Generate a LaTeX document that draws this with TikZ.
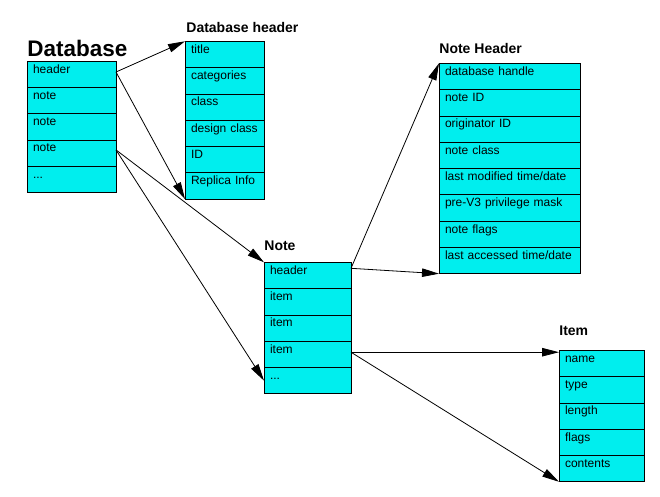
\documentclass[tikz,border=0pt]{standalone}
\usepackage{fontspec}
\setmainfont{Liberation Sans}
\usetikzlibrary{calc}
\usetikzlibrary{positioning}
\usetikzlibrary{arrows.meta}
\definecolor{cellcyan}{RGB}{0,238,238}
\tikzstyle{cell} = [draw, fill=cellcyan, inner xsep=6pt, inner ysep=3pt, outer sep=0pt, text height=9pt, text depth=11.3pt, align=left, font=\fontsize{12}{14}\selectfont]
\tikzstyle{dbcell} = [cell, text width=77pt]
\tikzstyle{dbhcell} = [cell, text width=67pt]
\tikzstyle{nhcell} = [cell, text width=129pt]
\tikzstyle{notecell} = [cell, text width=75pt]
\tikzstyle{itemcell} = [cell, text width=73pt]
\tikzstyle{boxtitle} = [anchor=base west, inner sep=0pt, font=\bfseries\fontsize{14}{16}\selectfont]

\begin{document}
\begin{tikzpicture}[x=1pt, y=-1pt, node distance=0pt, line width=0.8pt, >={Triangle[length=17pt,width=8.5pt]}]
  \useasboundingbox (0,0) rectangle (660,496);
  \fill[white] (0,0) rectangle (660,496);

  % Database
  \node[dbcell, anchor=north west] (db1) at (27,61) {header};
  \node[dbcell, below=of db1] (db2) {note};
  \node[dbcell, below=of db2] (db3) {note};
  \node[dbcell, below=of db3] (db4) {note};
  \node[dbcell, below=of db4] (db5) {...};
  \node[boxtitle, font=\bfseries\fontsize{22.5}{26}\selectfont] (dbtitle) at ($(db1.north west)+(0,-5)$) {Database};

  % Database header
  \node[dbhcell, anchor=north west] (dbh1) at (185,41.3) {title};
  \node[dbhcell, below=of dbh1] (dbh2) {categories};
  \node[dbhcell, below=of dbh2] (dbh3) {class};
  \node[dbhcell, below=of dbh3] (dbh4) {design class};
  \node[dbhcell, below=of dbh4] (dbh5) {ID};
  \node[dbhcell, below=of dbh5] (dbh6) {Replica Info};
  \node[boxtitle] (dbhtitle) at ($(dbh1.north west)+(1,-9)$) {Database header};

  % Note Header
  \node[nhcell, anchor=north west] (nh1) at (439,63.3) {database handle};
  \node[nhcell, below=of nh1] (nh2) {note ID};
  \node[nhcell, below=of nh2] (nh3) {originator ID};
  \node[nhcell, below=of nh3] (nh4) {note class};
  \node[nhcell, below=of nh4] (nh5) {last modified time/date};
  \node[nhcell, below=of nh5] (nh6) {pre-V3 privilege mask};
  \node[nhcell, below=of nh6] (nh7) {note flags};
  \node[nhcell, below=of nh7] (nh8) {last accessed time/date};
  \node[boxtitle] (nhtitle) at ($(nh1.north west)+(0,-9.5)$) {Note Header};

  % Note
  \node[notecell, anchor=north west] (note1) at (264,262.3) {header};
  \node[notecell, below=of note1] (note2) {item};
  \node[notecell, below=of note2] (note3) {item};
  \node[notecell, below=of note3] (note4) {item};
  \node[notecell, below=of note4] (note5) {...};
  \node[boxtitle] (notetitle) at ($(note1.north west)+(0,-11.5)$) {Note};

  % Item
  \node[itemcell, anchor=north west] (item1) at (559,350.3) {name};
  \node[itemcell, below=of item1] (item2) {type};
  \node[itemcell, below=of item2] (item3) {length};
  \node[itemcell, below=of item3] (item4) {flags};
  \node[itemcell, below=of item4] (item5) {contents};
  \node[boxtitle] (itemtitle) at ($(item1.north west)+(0,-15)$) {Item};

  % link start points
  \coordinate (db1out) at ($(db1.north east)+(0,11)$);
  \coordinate (db4out) at ($(db4.north east)+(0,10)$);
  \coordinate (note1out) at ($(note1.north east)+(0,6)$);
  \coordinate (note4out) at ($(note4.north east)+(0,11)$);

  \draw[->] (db1out) -- (dbh1.north west);
  \draw[->] (db1out) -- (dbh6.south west);
  \draw[->] (db4out) -- (note1.north west);
  \draw[->] (db4out) -- (note5.west);
  \draw[->] (note1out) -- (nh1.north west);
  \draw[->] (note1out) -- (nh8.south west);
  \draw[->] (note4out) -- (note4out -| item1.west);
  \draw[->] (note4out) -- (item5.south west);
\end{tikzpicture}
\end{document}
